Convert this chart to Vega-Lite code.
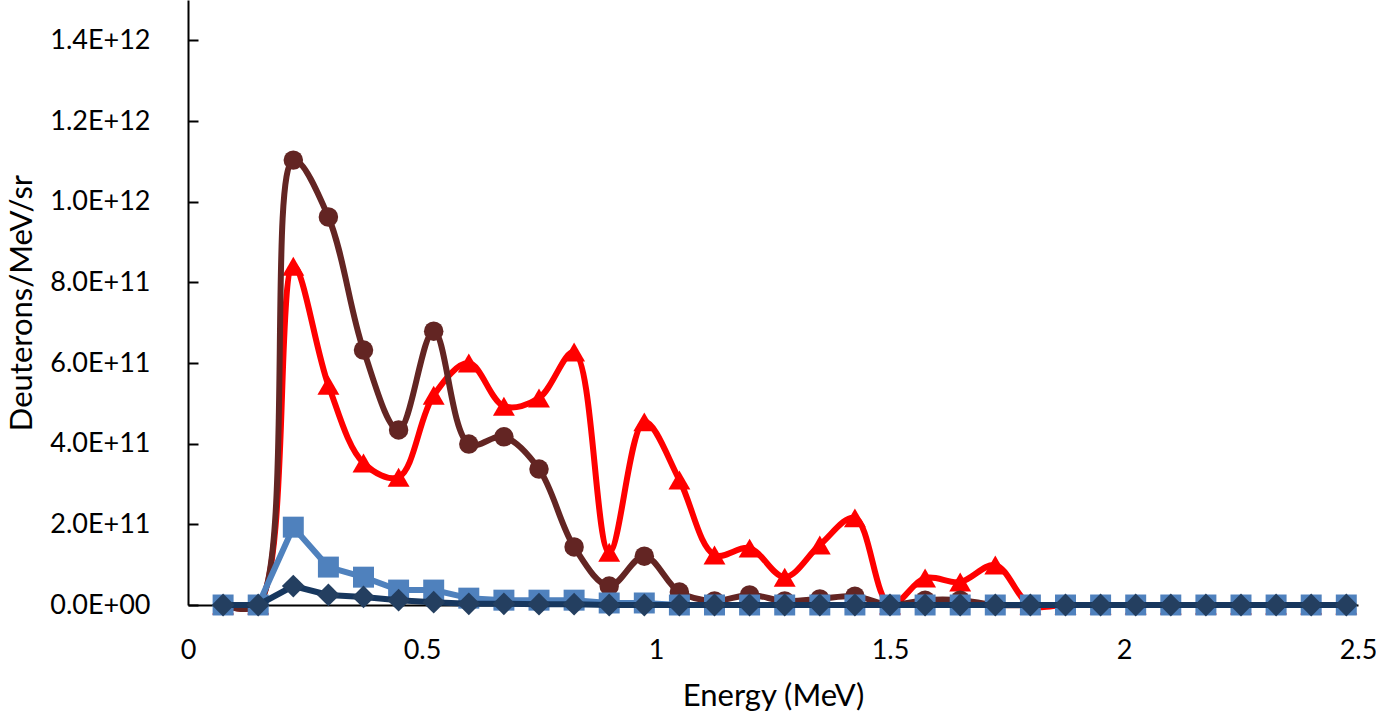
{
  "$schema": "https://vega.github.io/schema/vega-lite/v6.json",
  "width": 1170,
  "height": 605,
  "autosize": {"type": "none"},
  "padding": {"left": 188, "top": 0, "right": 18, "bottom": 112},
  "background": "white",
  "config": {
    "view": {"stroke": null},
    "font": "Lato",
    "axis": {"labelFont": "Lato", "titleFont": "Lato", "labelFontSize": 27, "titleFontSize": 31, "titleFontWeight": "normal", "labelColor": "#000000", "titleColor": "#000000", "domainColor": "#000000", "domainWidth": 2, "tickColor": "#000000", "tickWidth": 2, "grid": false}
  },
  "data": {"values": [
    {"energy": 0.075, "red": 0, "brown": 0, "blue": 0, "navy": 0},
    {"energy": 0.15, "red": 0, "brown": 0, "blue": 0, "navy": 0},
    {"energy": 0.225, "red": 8.4e11, "brown": 1.103e12, "blue": 1.93e11, "navy": 4.7e10},
    {"energy": 0.3, "red": 5.45e11, "brown": 9.62e11, "blue": 9.4e10, "navy": 2.5e10},
    {"energy": 0.375, "red": 3.52e11, "brown": 6.32e11, "blue": 6.9e10, "navy": 2.0e10},
    {"energy": 0.45, "red": 3.17e11, "brown": 4.34e11, "blue": 3.7e10, "navy": 1.2e10},
    {"energy": 0.525, "red": 5.2e11, "brown": 6.79e11, "blue": 3.7e10, "navy": 7e9},
    {"energy": 0.6, "red": 6.0e11, "brown": 3.99e11, "blue": 1.7e10, "navy": 3e9},
    {"energy": 0.675, "red": 4.93e11, "brown": 4.17e11, "blue": 1.2e10, "navy": 3e9},
    {"energy": 0.75, "red": 5.13e11, "brown": 3.37e11, "blue": 1.2e10, "navy": 2e9},
    {"energy": 0.825, "red": 6.27e11, "brown": 1.44e11, "blue": 1.2e10, "navy": 2e9},
    {"energy": 0.9, "red": 1.31e11, "brown": 4.7e10, "blue": 5e9, "navy": 0},
    {"energy": 0.975, "red": 4.54e11, "brown": 1.21e11, "blue": 5e9, "navy": 0},
    {"energy": 1.05, "red": 3.1e11, "brown": 3.2e10, "blue": 0, "navy": 0},
    {"energy": 1.125, "red": 1.24e11, "brown": 1.0e10, "blue": 0, "navy": 0},
    {"energy": 1.2, "red": 1.41e11, "brown": 2.5e10, "blue": 0, "navy": 0},
    {"energy": 1.275, "red": 6.9e10, "brown": 1.0e10, "blue": 0, "navy": 0},
    {"energy": 1.35, "red": 1.49e11, "brown": 1.5e10, "blue": 0, "navy": 0},
    {"energy": 1.425, "red": 2.16e11, "brown": 2.2e10, "blue": 0, "navy": 0},
    {"energy": 1.5, "red": 0, "brown": 0, "blue": 0, "navy": 0},
    {"energy": 1.575, "red": 6.7e10, "brown": 1.2e10, "blue": 0, "navy": 0},
    {"energy": 1.65, "red": 5.7e10, "brown": 1.2e10, "blue": 0, "navy": 0},
    {"energy": 1.725, "red": 9.9e10, "brown": 0, "blue": 0, "navy": 0},
    {"energy": 1.8, "red": 0, "brown": 0, "blue": 0, "navy": 0},
    {"energy": 1.875, "red": 0, "brown": 0, "blue": 0, "navy": 0},
    {"energy": 1.95, "red": 0, "brown": 0, "blue": 0, "navy": 0},
    {"energy": 2.025, "red": 0, "brown": 0, "blue": 0, "navy": 0},
    {"energy": 2.1, "red": 0, "brown": 0, "blue": 0, "navy": 0},
    {"energy": 2.175, "red": 0, "brown": 0, "blue": 0, "navy": 0},
    {"energy": 2.25, "red": 0, "brown": 0, "blue": 0, "navy": 0},
    {"energy": 2.325, "red": 0, "brown": 0, "blue": 0, "navy": 0},
    {"energy": 2.4, "red": 0, "brown": 0, "blue": 0, "navy": 0},
    {"energy": 2.475, "red": 0, "brown": 0, "blue": 0, "navy": 0}
  ]},
  "encoding": {
    "x": {"field": "energy", "type": "quantitative", "title": "Energy (MeV)",
      "scale": {"domain": [0, 2.5], "nice": false, "zero": false},
      "axis": {"values": [0, 0.5, 1, 1.5, 2, 2.5], "format": "~g", "ticks": false, "labelPadding": 32, "titlePadding": 18, "labelFlush": false}}
  },
  "layer": [
    {"mark": {"type": "line", "color": "#FF0000", "strokeWidth": 6, "interpolate": "catmull-rom", "clip": false},
     "encoding": {"y": {"field": "red", "type": "quantitative", "title": "Deuterons/MeV/sr",
       "scale": {"domain": [0, 1.5e12], "nice": false},
       "axis": {"values": [0, 2e11, 4e11, 6e11, 8e11, 1e12, 1.2e12, 1.4e12], "labelExpr": "datum.value == 0 ? '0.0E+00' : upper(format(datum.value, '.1e'))", "tickSize": -10, "labelPadding": 48, "titlePadding": 11}}}},
    {"mark": {"type": "point", "shape": "triangle-up", "filled": true, "opacity": 1, "color": "#FF0000", "size": 480, "clip": false},
     "encoding": {"y": {"field": "red", "type": "quantitative"}}},
    {"mark": {"type": "line", "color": "#632523", "strokeWidth": 6, "interpolate": "catmull-rom", "clip": false},
     "encoding": {"y": {"field": "brown", "type": "quantitative"}}},
    {"mark": {"type": "point", "shape": "circle", "filled": true, "opacity": 1, "color": "#632523", "size": 380, "clip": false},
     "encoding": {"y": {"field": "brown", "type": "quantitative"}}},
    {"mark": {"type": "line", "color": "#4F81BD", "strokeWidth": 6, "clip": false},
     "encoding": {"y": {"field": "blue", "type": "quantitative"}}},
    {"mark": {"type": "point", "shape": "square", "filled": true, "opacity": 1, "color": "#4F81BD", "size": 440, "clip": false},
     "encoding": {"y": {"field": "blue", "type": "quantitative"}}},
    {"mark": {"type": "line", "color": "#17375E", "strokeWidth": 6, "clip": false},
     "encoding": {"y": {"field": "navy", "type": "quantitative"}}},
    {"mark": {"type": "point", "shape": "diamond", "filled": true, "opacity": 1, "color": "#243F60", "size": 520, "clip": false},
     "encoding": {"y": {"field": "navy", "type": "quantitative"}}}
  ]
}
